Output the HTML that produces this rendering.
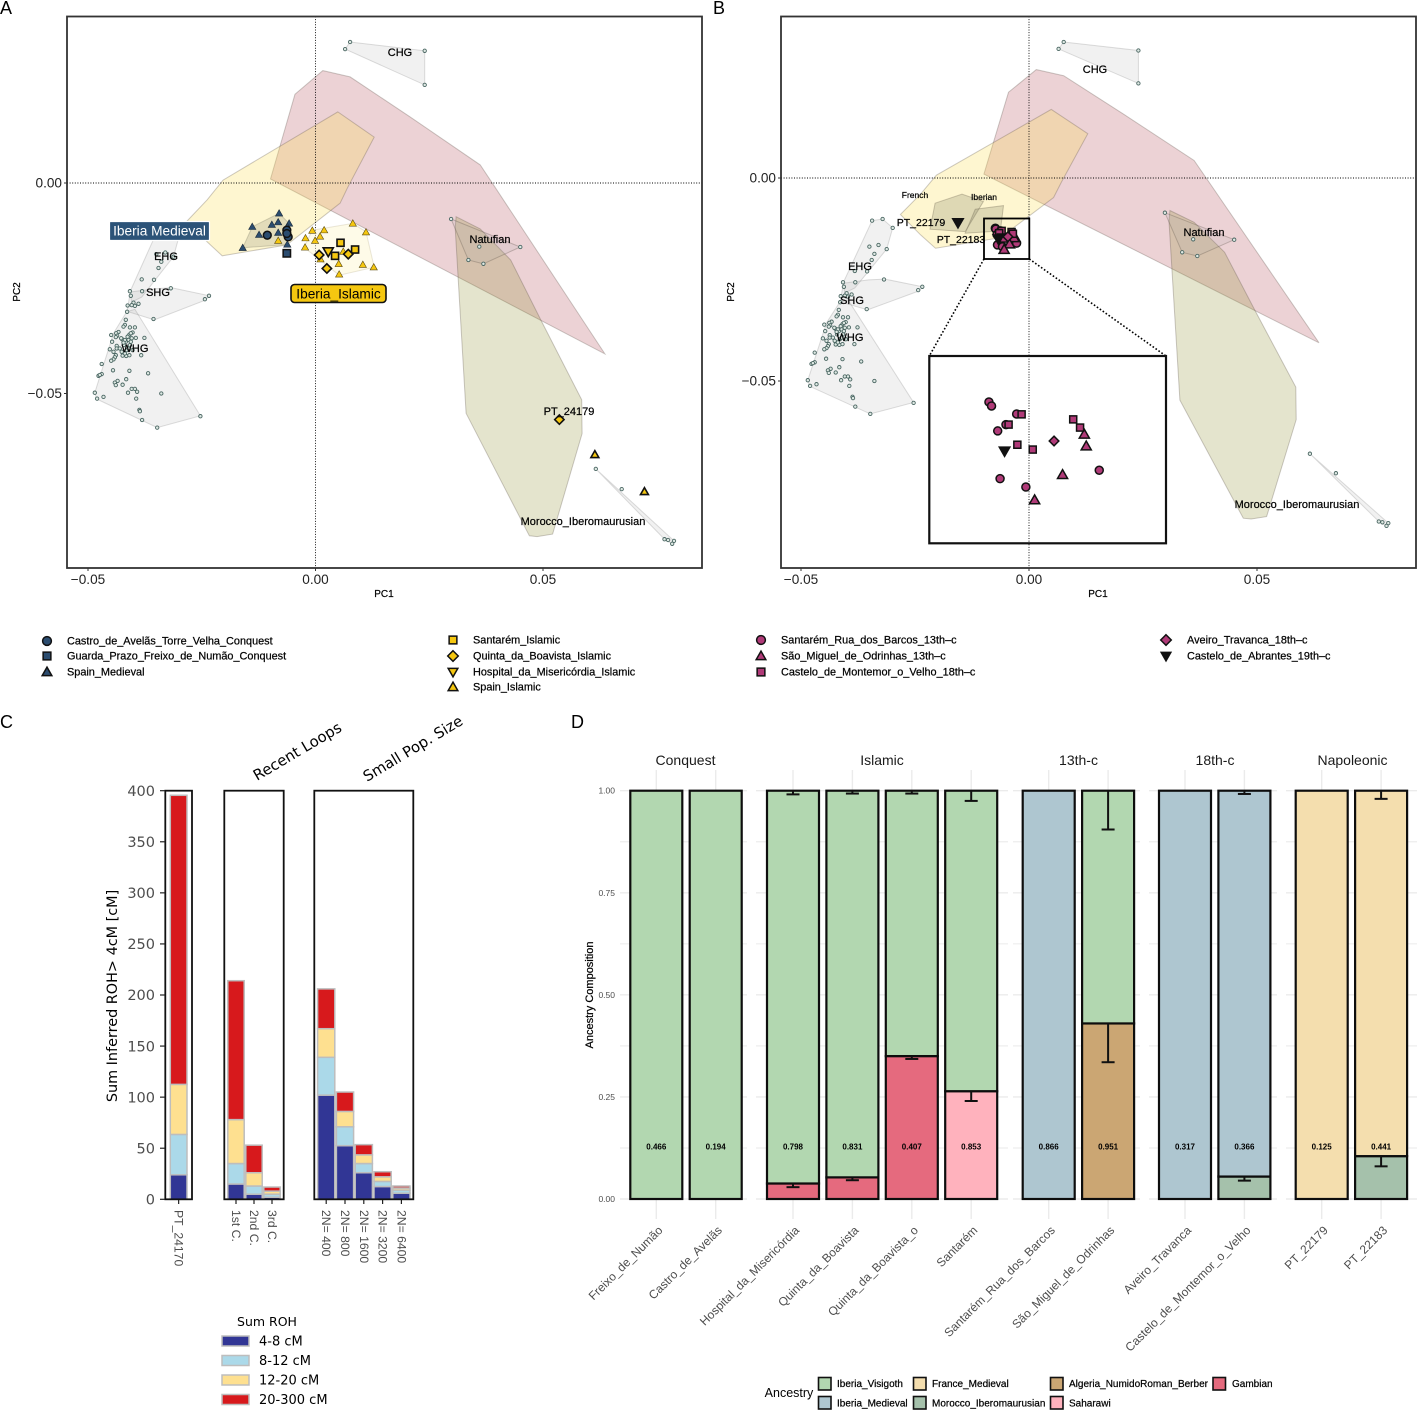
<!DOCTYPE html>
<html lang="en">
<head>
<meta charset="utf-8">
<title>PCA, ROH and ancestry composition</title>
<style>
html,body{margin:0;padding:0;background:#fff;}
svg{display:block;font-family:"Liberation Sans",sans-serif;}
</style>
</head>
<body>
<svg id="fig" xmlns="http://www.w3.org/2000/svg" width="1417" height="1410" viewBox="0 0 1417 1410">
<rect x="0" y="0" width="1417" height="1410" fill="#fff"/>
<text x="0" y="14" font-size="18">A</text>
<text x="713" y="14" font-size="18">B</text>
<text x="0" y="728" font-size="18">C</text>
<text x="571" y="728" font-size="18">D</text>
</svg>
<script>
/* ---------- PCA data: [PC1, PC2] scores, in thousandths ---------- */
const levantHull=[[-4.5,21.1],[1.6,26.7],[7.6,25.2],[20.8,15.7],[36.2,4.3],[39.9,-1.7],[63.6,-40.6],[-9.9,0.95]];
const europeHull=[[4.9,16.9],[12.9,10.9],[7.1,-1],[5.4,-4.8],[-6.3,-14.7],[-20.5,-17.3],[-23.8,-14],[-28.2,-9],[-23.8,-4],[-20.3,0.7]];
const africaHull=[[30.9,-8],[36.2,-10.9],[42.9,-18.3],[49.7,-32.9],[58.5,-51.5],[58.6,-59.5],[52.1,-83.4],[48.7,-84],[47,-83.8],[33.1,-54.7],[30.7,-10.7]];
const chgScores=[[7.6,33.5],[6.5,31.8],[24,23.3],[24,31.4]];
const natufianScores=[[29.8,-8.55],[36,-15.1],[45,-15.2],[33.6,-18.3],[36.9,-19.2]];
const natufianHull=[[29.8,-8.55],[45,-15.2],[36.9,-19.2],[33.6,-18.3]];
const moroccoScores=[[61.6,-67.9],[67.3,-72.7],[76.7,-84.6],[77.5,-84.8],[78.8,-85],[78.4,-85.7]];
const moroccoHull=[[61.6,-67.9],[78.8,-85],[78.4,-85.7],[76.7,-84.6]];
const ehgScores=[[-34.4,-10.5],[-32.1,-10.1],[-29.9,-12.3],[-31.2,-17.5],[-33,-16.5],[-35,-16.9],[-33.9,-18.7],[-34.5,-20.2],[-38.2,-22.9],[-35.5,-23]];
const ehgHull=[[-34.4,-10.5],[-32.1,-10.1],[-29.9,-12.3],[-31.2,-17.5],[-38.2,-27.1],[-40.4,-28.3],[-40.8,-25.9]];
const shgScores=[[-40.8,-25.7],[-40.6,-26.8],[-38.1,-25.7],[-31.8,-25],[-23.4,-26.8],[-24.3,-27.6],[-35.6,-32.3],[-41.3,-29.1],[-40,-28.4],[-38.9,-28.7],[-39.7,-29.2],[-40.4,-29],[-41.4,-30.6]];
const shgHull=[[-40.7,-25.9],[-35.2,-25.1],[-31.6,-24.9],[-23.3,-26.8],[-24.1,-27.8],[-35.4,-32.5],[-41.4,-30.5]];
const whgScores=[[-41.7,-32.5],[-41.9,-33.7],[-42.2,-34.1],[-40.8,-34.3],[-39.7,-34.3],[-40.2,-35.5],[-43.3,-35.4],[-43.8,-35.7],[-44.9,-36.1],[-43.6,-36.3],[-43.9,-36.6],[-42.5,-37.1],[-44.7,-37.7],[-40.9,-36],[-41.3,-36.5],[-40.6,-35.7],[-41.1,-37.3],[-41.7,-37.7],[-40.4,-36.9],[-37.6,-36.8],[-39.5,-36.8],[-43.7,-38.7],[-45.2,-39.5],[-44.4,-40.1],[-43.7,-39.3],[-42.6,-40.1],[-41.5,-39.7],[-40.8,-38.5],[-42.1,-38.5],[-43.9,-40.9],[-44.1,-41.4],[-44.4,-41.9],[-44.9,-42.2],[-42.4,-41],[-41.6,-41.1],[-40.9,-40.9],[-38.3,-40.9],[-40.2,-39.7],[-47,-43],[-44.5,-44.5],[-40.9,-44.6],[-36.8,-45.2],[-47,-45.4],[-47.7,-45.8],[-47.4,-45.6],[-43.5,-47],[-44.1,-47.4],[-43.9,-48],[-42.4,-47.9],[-41.6,-46.6],[-40.4,-48.9],[-39.7,-48.9],[-39.2,-49.6],[-41.2,-49.8],[-39.4,-51.2],[-33.9,-50],[-48.5,-49.8],[-48,-51.2],[-46.6,-50.8],[-38.7,-53.9],[-38.6,-54.2],[-38.1,-56.3],[-34.8,-58.1],[-25.3,-55.4],[-42.7,-36.9],[-41.9,-37.3],[-42.2,-37.9],[-40.6,-37.7],[-43,-39.3],[-41.1,-39.3],[-41.9,-40.5]];
const whgHull=[[-41.5,-30.6],[-44.4,-35.7],[-48.5,-49.8],[-48.1,-51.3],[-34.8,-58.1],[-25.3,-55.3],[-39.7,-30]];
const frenchHull=[[-20.6,-6.2],[-14.7,-4],[-10,-5.8],[-14,-13.2],[-21.7,-12.6]];
const iberianHull=[[-11.8,-7.7],[-5.6,-6.8],[-6.2,-12.4],[-8.6,-13.2],[-14,-13.6]];
const medievalHull=[[-13.9,-10.4],[-8,-7.2],[-5.8,-9.6],[-6.2,-14.6],[-16,-15.4]];
const islamicHull=[[8.2,-9.6],[11.1,-11.6],[12.9,-20],[5.2,-21.9],[-2.5,-15.3],[-0.7,-11.2]];
const spainMedieval=[[-8,-7.2],[-13.9,-10.4],[-9.6,-9.9],[-8.2,-9.3],[-5.8,-9.6],[-6.2,-10.4],[-12.4,-12.3],[-8.2,-11.8],[-16,-15.4],[-6.2,-14.6]];
const castroConquest=[[-6.3,-11.2],[-10.6,-12.4],[-6,-12.8],[-6.3,-12]];
const guardaConquest=[[-6.3,-16.7]];
const spainIslamic=[[8.2,-9.6],[11.1,-11.7],[-0.7,-11.3],[1.9,-11.2],[-2.2,-13.1],[1,-12.7],[-0.1,-13.7],[-2.3,-15.3],[-8.2,-13.7],[1.1,-18.1],[5.1,-19.2],[10.4,-19.4],[12.8,-20],[5.2,-21.7],[6.1,-16.3]];
const spainIslamicOutliers=[[61.4,-64.5],[72.3,-73.3]];
const santaremIslamic=[[5.5,-14.2],[8.7,-15.8],[4.3,-17.3]];
const quintaIslamic=[[0.8,-17.1],[7.2,-16.9],[2.5,-20.3],[53.6,-56.2]];
const hospitalIslamic=[[2.8,-16.3]];
const santaremRua=[[-7.38,-12.37],[-7.27,-12.58],[-6.21,-13.01],[-6.66,-13.58],[-7.01,-13.92],[-6.91,-16.48],[-5.82,-16.93],[-2.72,-16.03]];
const saoMiguel=[[-3.35,-14.1],[-3.27,-14.73],[-4.27,-16.27],[-5.45,-17.62]];
const casteloMontemor=[[-6,-13.03],[-6.55,-13.58],[-6.18,-14.66],[-5.53,-14.92],[-3.82,-13.3],[-3.53,-13.74]];
const aveiroTravanca=[[-4.63,-14.46]];
const casteloAbrantes=[[-15.57,-11],[-6.72,-15]];
const pcTicksX=[-50,0,50];
const pcTicksY=[0,-50];
const zoomWindowPC1=[-9.9,0.07];
const zoomWindowPC2=[-19.95,-9.9];

/* ---------- ROH data (panel C), cM ---------- */
const rohCategories=["PT_24170","1st C.","2nd C.","3rd C.","2N= 400","2N= 800","2N= 1600","2N= 3200","2N= 6400"];
const roh4to8=[24,15,5,2,102,52.5,26,12.5,6];
const roh8to12=[39.5,20,8,3,37,18.5,9,5,3];
const roh12to20=[49,43,13,3,28,15,8.5,4.5,2];
const roh20to300=[283,136,27,4,39,19,10,5,2];
const rohTicks=[0,50,100,150,200,250,300,350,400];
const rohLegendLabels=["4-8 cM","8-12 cM","12-20 cM","20-300 cM"];

/* ---------- Ancestry data (panel D) ---------- */
const ancestryGroups=["Conquest","Islamic","13th-c","18th-c","Napoleonic"];
const ancestrySites=["Freixo_de_Numão","Castro_de_Avelãs","Hospital_da_Misericórdia","Quinta_da_Boavista","Quinta_da_Boavista_o","Santarém","Santarém_Rua_dos_Barcos","São_Miguel_de_Odrinhas","Aveiro_Travanca","Castelo_de_Montemor_o_Velho","PT_22179","PT_22183"];
const propVisigoth=[1,1,0.962,0.947,0.65,0.736,0,0.57,0,0,0,0];
const propMedieval=[0,0,0,0,0,0,1,0,1,0.945,0,0];
const propFrance=[0,0,0,0,0,0,0,0,0,0,1,0.895];
const propMorocco=[0,0,0,0,0,0,0,0,0,0.055,0,0.105];
const propAlgeria=[0,0,0,0,0,0,0,0.43,0,0,0,0];
const propGambian=[0,0,0.038,0.053,0.35,0,0,0,0,0,0,0];
const propSaharawi=[0,0,0,0,0,0.264,0,0,0,0,0,0];
const fitPValues=["0.466","0.194","0.798","0.831","0.407","0.853","0.866","0.951","0.317","0.366","0.125","0.441"];
const errTopLower=[null,null,0.991,0.993,0.993,0.975,null,0.905,null,0.992,null,0.98];
const errSplitLower=[null,null,0.029,0.046,0.343,0.24,null,0.335,null,0.045,null,0.08];
const ancestryTicks=[0,0.25,0.5,0.75,1];
const ancestryMinorTicks=[0.125,0.375,0.625,0.875];

/* ---------- helpers ---------- */
const NS="http://www.w3.org/2000/svg";
const svg=document.getElementById("fig");
function add(parent,tagName,attrs,name,interactable){
  const el=document.createElementNS(NS,tagName);
  for(const k in attrs){el.setAttribute(k,attrs[k]);}
  
  
  parent.appendChild(el);
  return el;
}
function label(parent,str,x,y,size,name,opts){
  const el=add(parent,"text",Object.assign({x:x,y:y,"font-size":size,fill:"#000"},opts||{}),name);
  el.textContent=str;
  return el;
}
const HEAVY={stroke:"#000","stroke-width":0.22};
function group(name){return add(svg,"g",{},name);}
function marker(g,shape,cx,cy,r,fill,stroke,sw,name){
  const st={fill:fill,stroke:stroke,"stroke-width":sw,"stroke-linejoin":"miter"};
  if(shape==="circle"){return add(g,"circle",Object.assign({cx:cx,cy:cy,r:r},st),name);}
  if(shape==="square"){const s=r*0.88;return add(g,"rect",Object.assign({x:cx-s,y:cy-s,width:2*s,height:2*s},st),name);}
  let pts;
  if(shape==="diamond"){const d=r*1.2;pts=[[cx,cy-d],[cx+d,cy],[cx,cy+d],[cx-d,cy]];}
  if(shape==="up"){const d=r*1.1;pts=[[cx,cy-d],[cx+d,cy+d*0.75],[cx-d,cy+d*0.75]];}
  if(shape==="down"){const d=r*1.1;pts=[[cx,cy+d],[cx+d,cy-d*0.75],[cx-d,cy-d*0.75]];}
  return add(g,"polygon",Object.assign({points:pts.map(p=>p.join(",")).join(" ")},st),name);
}
function hull(g,pts,ax,fill,stroke,name){
  return add(g,"polygon",{points:pts.map(p=>ax.x(p[0]).toFixed(1)+","+ax.y(p[1]).toFixed(1)).join(" "),fill:fill,stroke:stroke,"stroke-width":1},name);
}
function dots(g,pts,ax,name){
  pts.forEach(p=>{
    add(g,"circle",{cx:ax.x(p[0]).toFixed(1),cy:ax.y(p[1]).toFixed(1),r:1.7,fill:"#dfe9e4",stroke:"#4a6662","stroke-width":0.9},name);
  });
}
function points(g,pts,ax,shape,r,fill,stroke,sw,name){
  pts.forEach(p=>{marker(g,shape,ax.x(p[0]),ax.y(p[1]),r,fill,stroke,sw,name);});
}
function inZoomWindow(p){
  return p[0]>=zoomWindowPC1[0]&&p[0]<=zoomWindowPC1[1]&&p[1]>=zoomWindowPC2[0]&&p[1]<=zoomWindowPC2[1];
}
function fmtPC(v){const s=(Math.abs(v)/1000).toFixed(2);return v<0?"\u2212"+s:s;}

const PINK="rgba(185,90,100,.27)",YEL="rgba(250,220,80,.27)",OLV="rgba(140,140,40,.23)",GRY="rgba(170,170,170,.17)";
const EDGE="rgba(90,80,70,.3)",GEDGE="rgba(120,120,120,.25)";
const NAVY="#2b4c6f",GOLD="#f5c710",MAG="#b03a78",INK="#111";

function drawPanelBase(g,ax,frame){
  add(g,"rect",{x:frame.x0,y:frame.y0,width:frame.x1-frame.x0,height:frame.y1-frame.y0,fill:"#fff"},"plot-background");
  hull(g,levantHull,ax,PINK,EDGE,"levant-hull");
  hull(g,europeHull,ax,YEL,EDGE,"europe-hull");
  hull(g,africaHull,ax,OLV,EDGE,"north-africa-hull");
  hull(g,ehgHull,ax,GRY,GEDGE,"ehg-hull");
  hull(g,shgHull,ax,GRY,GEDGE,"shg-hull");
  hull(g,whgHull,ax,GRY,GEDGE,"whg-hull");
  hull(g,chgScores,ax,GRY,GEDGE,"chg-hull");
  hull(g,natufianHull,ax,"rgba(170,170,170,.15)",EDGE,"natufian-hull");
  hull(g,moroccoHull,ax,GRY,GEDGE,"morocco-iberomaurusian-hull");
  add(g,"line",{x1:frame.x0,x2:frame.x1,y1:ax.y(0),y2:ax.y(0),stroke:"#000","stroke-width":0.9,"stroke-dasharray":"1 1.6"},"zero-line-pc2");
  add(g,"line",{x1:ax.x(0),x2:ax.x(0),y1:frame.y0,y2:frame.y1,stroke:"#000","stroke-width":0.9,"stroke-dasharray":"1 1.6"},"zero-line-pc1");
  dots(g,chgScores,ax,"chg-point");
  dots(g,natufianScores,ax,"natufian-point");
  dots(g,moroccoScores,ax,"morocco-iberomaurusian-point");
  dots(g,ehgScores,ax,"ehg-point");
  dots(g,shgScores,ax,"shg-point");
  dots(g,whgScores,ax,"whg-point");
}
function drawPanelAxes(g,ax,frame,xTitle,yTitleX){
  add(g,"rect",{x:frame.x0,y:frame.y0,width:frame.x1-frame.x0,height:frame.y1-frame.y0,fill:"none",stroke:"#333","stroke-width":1.8},"plot-frame");
  pcTicksX.forEach(v=>{
    add(g,"line",{x1:ax.x(v),x2:ax.x(v),y1:frame.y1,y2:frame.y1+3,stroke:"#333","stroke-width":1},"x-tick");
    label(g,fmtPC(v),ax.x(v),frame.y1+16,13.6,"x-tick-label",{"text-anchor":"middle",fill:"#222"});
  });
  pcTicksY.forEach(v=>{
    add(g,"line",{x1:frame.x0-3,x2:frame.x0,y1:ax.y(v),y2:ax.y(v),stroke:"#333","stroke-width":1},"y-tick");
    label(g,fmtPC(v),frame.x0-5,ax.y(v)+4.5,13.6,"y-tick-label",{"text-anchor":"end",fill:"#222"});
  });
  label(g,"PC1",xTitle,597,10,"x-axis-title",Object.assign({"text-anchor":"middle"},HEAVY));
  label(g,"PC2",0,0,10,"y-axis-title",Object.assign({"text-anchor":"middle",transform:"translate("+yTitleX+",292) rotate(-90)"},HEAVY));
}

/* ---------- Panel A ---------- */
const axA={x:v=>315.5+4.55*v,y:v=>183-4.21*v};
const gA=group("pca-panel-a");
const frameA={x0:67,y0:16.5,x1:702,y1:568};
drawPanelBase(gA,axA,frameA);
hull(gA,medievalHull,axA,"rgba(120,120,100,.2)","rgba(120,120,100,.3)","iberia-medieval-hull");
hull(gA,islamicHull,axA,"rgba(253,245,200,.42)","rgba(170,160,120,.25)","iberia-islamic-hull");
points(gA,spainMedieval,axA,"up",3.3,NAVY,"#1c2a38",0.6,"spain-medieval-point");
points(gA,spainIslamic,axA,"up",3.3,GOLD,"#5b4a10",0.6,"spain-islamic-point");
points(gA,spainIslamicOutliers,axA,"up",3.6,GOLD,"#111",1.6,"spain-islamic-outlier");
points(gA,guardaConquest,axA,"square",4.2,NAVY,"#111",1.5,"guarda-prazo-conquest-point");
points(gA,castroConquest,axA,"circle",3.9,NAVY,"#111",1.5,"castro-de-avelas-conquest-point");
points(gA,hospitalIslamic,axA,"down",4.6,GOLD,"#111",1.6,"hospital-misericordia-islamic-point");
points(gA,santaremIslamic,axA,"square",4,GOLD,"#111",1.6,"santarem-islamic-point");
points(gA,quintaIslamic,axA,"diamond",3.9,GOLD,"#111",1.6,"quinta-boavista-islamic-point");
[["CHG",400,56],["Natufian",490,243],["EHG",166,260],["SHG",158,296],["WHG",135,352],["PT_24179",569,415],["Morocco_Iberomaurusian",583,525]].forEach(t=>{
  label(gA,t[0],t[1],t[2],11,"population-label",Object.assign({"text-anchor":"middle"},HEAVY));
});
add(gA,"rect",{x:109.5,y:221.5,width:100,height:19,fill:"#2c5378",stroke:"#fff","stroke-width":1.2,rx:1},"iberia-medieval-tag");
label(gA,"Iberia Medieval",159.5,235.5,13.7,"iberia-medieval-tag-text",{"text-anchor":"middle",fill:"#fff"});
add(gA,"rect",{x:291,y:284.5,width:95,height:18,fill:GOLD,stroke:"#111","stroke-width":1.6,rx:3.5},"iberia-islamic-tag");
label(gA,"Iberia_Islamic",338.5,298.5,13.7,"iberia-islamic-tag-text",{"text-anchor":"middle"});
drawPanelAxes(gA,axA,frameA,384,20);

/* ---------- Panel B ---------- */
const axB={x:v=>1029+4.56*v,y:v=>178-4.06*v};
const gB=group("pca-panel-b");
const frameB={x0:781,y0:16.5,x1:1416,y1:568};
drawPanelBase(gB,axB,frameB);
hull(gB,frenchHull,axB,"rgba(110,110,80,.22)","rgba(110,100,80,.35)","french-hull");
hull(gB,iberianHull,axB,"rgba(110,110,80,.22)","rgba(110,100,80,.35)","iberian-hull");
[["CHG",1095,73,11],["Natufian",1204,236,11],["EHG",860,270,11],["SHG",852,304,11],["WHG",850,341,11],["Morocco_Iberomaurusian",1297,508,11],["French",915,198,8.5],["Iberian",984,200,8.5],["PT_22179",921,226,10.5],["PT_22183",961,243,10.5]].forEach(t=>{
  label(gB,t[0],t[1],t[2],t[3],"population-label",Object.assign({"text-anchor":"middle"},HEAVY));
});
function drawModern(g,ax,r,sw,suffix,filter){
  points(g,santaremRua.filter(filter),ax,"circle",r,MAG,INK,sw,"santarem-rua-point"+suffix);
  points(g,saoMiguel.filter(filter),ax,"up",r*1.15,MAG,INK,sw,"sao-miguel-point"+suffix);
  points(g,casteloMontemor.filter(filter),ax,"square",r,MAG,INK,sw,"castelo-montemor-point"+suffix);
  points(g,aveiroTravanca.filter(filter),ax,"diamond",r,MAG,INK,sw,"aveiro-travanca-point"+suffix);
  points(g,casteloAbrantes.filter(filter),ax,"down",r*1.2,"#111",INK,sw,"castelo-abrantes-point"+suffix);
}
drawModern(gB,axB,4,1.5,"",()=>true);
add(gB,"rect",{x:984,y:218.5,width:45.3,height:40.5,fill:"none",stroke:"#000","stroke-width":1.8},"zoom-box");
add(gB,"line",{x1:984,y1:259,x2:929.3,y2:356,stroke:"#000","stroke-width":1.6,"stroke-dasharray":"1.6 2"},"zoom-connector-left");
add(gB,"line",{x1:1029.3,y1:259,x2:1166,y2:356,stroke:"#000","stroke-width":1.6,"stroke-dasharray":"1.6 2"},"zoom-connector-right");
const axInset={x:v=>929.3+(v+9.9)*23.67,y:v=>356-(v+9.9)*18.64};
const gI=add(gB,"g",{},"zoom-inset");
add(gI,"rect",{x:929.3,y:356,width:236.7,height:187.3,fill:"#fff"},"inset-background");
add(gI,"line",{x1:1029,x2:1029,y1:356,y2:543,stroke:"#000","stroke-width":0.9,"stroke-dasharray":"1 1.6"},"inset-zero-line");
drawModern(gI,axInset,4,1.5,"-inset",inZoomWindow);
add(gI,"rect",{x:929.3,y:356,width:236.7,height:187.3,fill:"none",stroke:"#111","stroke-width":2.2},"inset-frame");
drawPanelAxes(gB,axB,frameB,1098,734);

/* ---------- PCA legends ---------- */
const gL=group("pca-legend");
[
 ["circle",47,641,NAVY,"Castro_de_Avelãs_Torre_Velha_Conquest",67],
 ["square",47,656,NAVY,"Guarda_Prazo_Freixo_de_Numão_Conquest",67],
 ["up",47,672,NAVY,"Spain_Medieval",67],
 ["square",453,640,GOLD,"Santarém_Islamic",473],
 ["diamond",453,656,GOLD,"Quinta_da_Boavista_Islamic",473],
 ["down",453,672,GOLD,"Hospital_da_Misericórdia_Islamic",473],
 ["up",453,687,GOLD,"Spain_Islamic",473],
 ["circle",761,640,MAG,"Santarém_Rua_dos_Barcos_13th–c",781],
 ["up",761,656,MAG,"São_Miguel_de_Odrinhas_13th–c",781],
 ["square",761,672,MAG,"Castelo_de_Montemor_o_Velho_18th–c",781],
 ["diamond",1166,640,MAG,"Aveiro_Travanca_18th–c",1187],
 ["down",1166,656,"#111","Castelo_de_Abrantes_19th–c",1187]
].forEach(e=>{
  marker(gL,e[0],e[1],e[2],4.4,e[3],INK,1.5,"legend-marker");
  label(gL,e[4],e[5],e[2]+3.5,10.9,"legend-entry",HEAVY);
});

/* ---------- Panel C: ROH ---------- */
const gC=group("roh-panel-c");
const dejavu='"DejaVu Sans",sans-serif';
const rohY=v=>1199.3-1.0215*v;
const rohPanels=[
  {start:0,end:1,x0:165.3,x1:192,step:18.3},
  {start:1,end:4,x0:224.3,x1:283.7,step:18},
  {start:4,end:9,x0:314.3,x1:413.3,step:18.8}
];
const rohColors=["#313695","#abd9e9","#fee090","#d7191c"];
const rohSeries=[roh4to8,roh8to12,roh12to20,roh20to300];
const rohNames=["roh-4-8","roh-8-12","roh-12-20","roh-20-300"];
rohPanels.forEach((p,pi)=>{
  const n=p.end-p.start,mid=(p.x0+p.x1)/2;
  for(let i=0;i<n;i++){
    const c=p.start+i,cx=mid+(i-(n-1)/2)*p.step,w=p.step-1.6;
    let base=0;
    rohSeries.forEach((s,k)=>{
      const top=base+s[c];
      add(gC,"rect",{x:cx-w/2,y:rohY(top),width:w,height:rohY(base)-rohY(top),fill:rohColors[k],stroke:"#bdbdbd","stroke-width":1.5},"bar-"+rohNames[k]);
      base=top;
    });
    add(gC,"line",{x1:cx,x2:cx,y1:1200,y2:1204,stroke:"#222","stroke-width":1.2},"x-tick");
    label(gC,rohCategories[c],0,0,12.2,"x-tick-label",{fill:"#4d4d4d",transform:"translate("+(cx-4)+",1210) rotate(90)"});
  }
  add(gC,"rect",{x:p.x0,y:790.7,width:p.x1-p.x0,height:408.6,fill:"none",stroke:"#111","stroke-width":1.8},"roh-facet-frame");
});
rohTicks.forEach(v=>{
  add(gC,"line",{x1:160,x2:165,y1:rohY(v),y2:rohY(v),stroke:"#222","stroke-width":1.2},"y-tick");
  label(gC,String(v),155,rohY(v)+5.2,14.5,"y-tick-label",{"text-anchor":"end",fill:"#4d4d4d","font-family":dejavu});
});
label(gC,"Sum Inferred ROH> 4cM [cM]",0,0,14.4,"y-axis-title",{"text-anchor":"middle","font-family":dejavu,transform:"translate(117,996) rotate(-90)"});
label(gC,"Recent Loops",0,0,14.9,"recent-loops-title",{"font-family":dejavu,transform:"translate(257,781) rotate(-30.5)"});
label(gC,"Small Pop. Size",0,0,14.9,"small-pop-size-title",{"font-family":dejavu,transform:"translate(367,782) rotate(-31)"});
label(gC,"Sum ROH",267,1326,12.5,"roh-legend-title",{"text-anchor":"middle","font-family":dejavu});
rohLegendLabels.forEach((t,i)=>{
  const y=1336+i*19.5;
  add(gC,"rect",{x:222,y:y,width:27,height:10,fill:rohColors[i],stroke:"#bdbdbd","stroke-width":1.5},"roh-legend-key");
  label(gC,t,259,y+9.5,13,"roh-legend-label",{"font-family":dejavu});
});

/* ---------- Panel D: ancestry ---------- */
const gD=group("ancestry-panel-d");
const ancY=v=>1199-408.3*v;
const ancGroupOf=[0,0,1,1,1,1,2,2,3,3,4,4];
const ancFacets=[{x0:620,x1:747},{x0:756,x1:1008},{x0:1013,x1:1140},{x0:1149,x1:1277},{x0:1286,x1:1417}];
const ancLeft=[629.3,766,1021.7,1158,1294.7];
const ancColors=["#b2d7b0","#aec6d0","#f4deae","#a5c1ab","#cba673","#e56a7e","#ffb2bd"];
const ancSeries=[propSaharawi,propGambian,propAlgeria,propMorocco,propFrance,propMedieval,propVisigoth];
const ancSeriesColors=[ancColors[6],ancColors[5],ancColors[4],ancColors[3],ancColors[2],ancColors[1],ancColors[0]];
const ancSeriesNames=["saharawi","gambian","algeria","morocco","france","medieval","visigoth"];
ancFacets.forEach(f=>{
  ancestryMinorTicks.forEach(v=>{
    add(gD,"line",{x1:f.x0,x2:f.x1,y1:ancY(v),y2:ancY(v),stroke:"#ededed","stroke-width":1.2},"minor-gridline");
  });
  ancestryTicks.forEach(v=>{
    add(gD,"line",{x1:f.x0,x2:f.x1,y1:ancY(v),y2:ancY(v),stroke:"#ebebeb","stroke-width":1.4},"major-gridline");
  });
});
const ancCounts=ancestryGroups.map(()=>0);
ancestrySites.forEach((site,i)=>{
  const gi=ancGroupOf[i];
  const x0=ancLeft[gi]+ancCounts[gi]*59.4;
  ancCounts[gi]+=1;
  const cx=x0+27;
  add(gD,"line",{x1:cx,x2:cx,y1:770,y2:1219,stroke:"#ebebeb","stroke-width":1.4},"vertical-gridline");
  let base=0;
  ancSeries.forEach((s,k)=>{
    if(s[i]>0){
      const top=base+s[i];
      add(gD,"rect",{x:x0+1,y:ancY(top),width:52,height:ancY(base)-ancY(top),fill:ancSeriesColors[k],stroke:"#0d0d0d","stroke-width":2.2},"bar-"+ancSeriesNames[k]);
      base=top;
    }
  });
  if(errTopLower[i]!==null){
    add(gD,"line",{x1:cx,x2:cx,y1:ancY(1),y2:ancY(errTopLower[i]),stroke:"#111","stroke-width":2},"error-bar-stem");
    add(gD,"line",{x1:cx-6.5,x2:cx+6.5,y1:ancY(errTopLower[i]),y2:ancY(errTopLower[i]),stroke:"#111","stroke-width":2},"error-bar-cap");
  }
  if(errSplitLower[i]!==null){
    let boundary=0;
    [propSaharawi,propGambian,propAlgeria,propMorocco].forEach(s=>{boundary+=s[i];});
    add(gD,"line",{x1:cx,x2:cx,y1:ancY(boundary),y2:ancY(errSplitLower[i]),stroke:"#111","stroke-width":2},"error-bar-stem");
    add(gD,"line",{x1:cx-6.5,x2:cx+6.5,y1:ancY(errSplitLower[i]),y2:ancY(errSplitLower[i]),stroke:"#111","stroke-width":2},"error-bar-cap");
  }
  label(gD,fitPValues[i],cx,1149.5,8,"fit-p-value",{"text-anchor":"middle","font-weight":"bold"});
  label(gD,site,0,0,12,"site-label",{"text-anchor":"end",fill:"#4d4d4d",transform:"translate("+(cx+7)+",1231) rotate(-45)"});
});
ancestryGroups.forEach((t,i)=>{
  const f=ancFacets[i];
  label(gD,t,(f.x0+f.x1)/2+(i===1?0:2)-(i===4?1:0),765,14,"facet-title-"+t.toLowerCase(),{"text-anchor":"middle",fill:"#1a1a1a"});
});
ancestryTicks.forEach(v=>{
  label(gD,v.toFixed(2),615,ancY(v)+3,8.5,"y-tick-label",{"text-anchor":"end",fill:"#4d4d4d"});
});
label(gD,"Ancestry Composition",0,0,11,"y-axis-title",Object.assign({"text-anchor":"middle",transform:"translate(593,995) rotate(-90)"},HEAVY));
label(gD,"Ancestry",789,1397,12.5,"ancestry-legend-title",{"text-anchor":"middle"});
[
 [818.5,1377.5,ancColors[0],"Iberia_Visigoth",837,1387],
 [818.5,1396.5,ancColors[1],"Iberia_Medieval",837,1406.5],
 [913.5,1377.5,ancColors[2],"France_Medieval",932,1387],
 [913.5,1396.5,ancColors[3],"Morocco_Iberomaurusian",932,1406.5],
 [1050.5,1377.5,ancColors[4],"Algeria_NumidoRoman_Berber",1069,1387],
 [1050.5,1396.5,ancColors[6],"Saharawi",1069,1406.5],
 [1213,1377.5,ancColors[5],"Gambian",1232,1387]
].forEach(e=>{
  add(gD,"rect",{x:e[0],y:e[1],width:12.5,height:12.5,fill:e[2],stroke:"#111","stroke-width":1.6},"ancestry-legend-key");
  label(gD,e[3],e[4],e[5],10,"ancestry-legend-label",HEAVY);
});
</script>
</body>
</html>
